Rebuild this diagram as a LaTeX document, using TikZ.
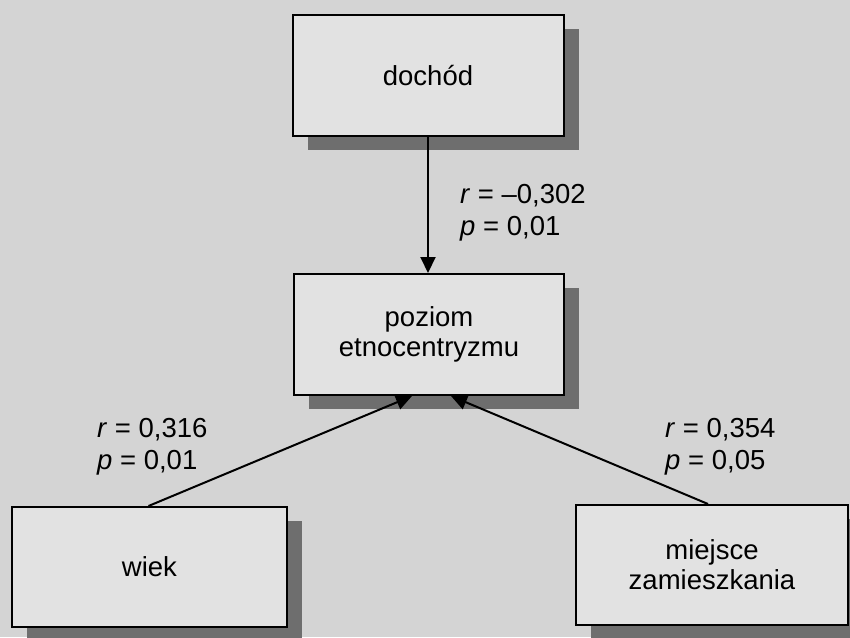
\documentclass[tikz,border=0pt]{standalone}
\usepackage{fontspec}
\setmainfont{Liberation Sans}
\usetikzlibrary{arrows.meta,shadows,calc}
\definecolor{bggrey}{HTML}{D4D4D4}
\definecolor{boxgrey}{HTML}{E2E2E2}
\definecolor{shadowgrey}{HTML}{6E6E6E}
\begin{document}
\begin{tikzpicture}[x=1pt,y=-1pt,
  varbox/.style={draw=black, line width=2pt, fill=boxgrey, align=center,
    inner sep=0pt, font=\fontsize{27.5}{30}\selectfont,
    drop shadow={shadow xshift=15pt, shadow yshift=-14pt, fill=shadowgrey, opacity=1}},
  stat/.style={anchor=west, align=left, inner sep=0pt, font=\fontsize{27.5}{32}\selectfont},
  link/.style={draw=black, line width=2pt, -{Triangle[length=16pt,width=15pt]}}]
\useasboundingbox[fill=bggrey] (0,0) rectangle (850,637);
\node[varbox, minimum width=271pt, minimum height=121pt] (doch) at (428,75.5) {dochód};
\node[varbox, minimum width=270pt, minimum height=121pt] (poz) at (429,334.5) {poziom\\etnocentryzmu};
\node[varbox, minimum width=275pt, minimum height=120pt] (wiek) at (149.5,567) {wiek};
\node[varbox, minimum width=272pt, minimum height=120pt] (miej) at (712,565) {miejsce\\zamieszkania};
\draw[link] (doch.south) -- (doch.south |- poz.north);
\draw[link] ($(wiek.north)+(-1,0)$) -- ($(poz.south)+(-17,0)$);
\draw[link] ($(miej.north)+(-4,0)$) -- ($(poz.south)+(22,0)$);
\node[stat] (l1) at (460,213) {\textit{r} = --0,302\\\textit{p} = 0,01};
\node[stat] (l2) at (97,447) {\textit{r} = 0,316\\\textit{p} = 0,01};
\node[stat] (l3) at (665,447) {\textit{r} = 0,354\\\textit{p} = 0,05};
\end{tikzpicture}
\end{document}
